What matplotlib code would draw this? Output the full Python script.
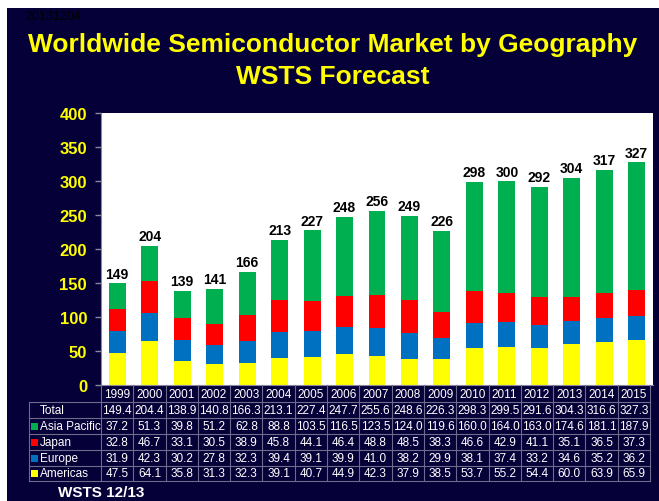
import matplotlib.pyplot as plt
import numpy as np

# WSTS 12/13 - market by region, billions USD
years = ['1999', '2000', '2001', '2002', '2003', '2004', '2005', '2006', '2007',
         '2008', '2009', '2010', '2011', '2012', '2013', '2014', '2015']
total = [149.4, 204.4, 138.9, 140.8, 166.3, 213.1, 227.4, 247.7, 255.6,
         248.6, 226.3, 298.3, 299.5, 291.6, 304.3, 316.6, 327.3]
asia_pacific = [37.2, 51.3, 39.8, 51.2, 62.8, 88.8, 103.5, 116.5, 123.5,
                124.0, 119.6, 160.0, 164.0, 163.0, 174.6, 181.1, 187.9]
japan = [32.8, 46.7, 33.1, 30.5, 38.9, 45.8, 44.1, 46.4, 48.8,
         48.5, 38.3, 46.6, 42.9, 41.1, 35.1, 36.5, 37.3]
europe = [31.9, 42.3, 30.2, 27.8, 32.3, 39.4, 39.1, 39.9, 41.0,
          38.2, 29.9, 38.1, 37.4, 33.2, 34.6, 35.2, 36.2]
americas = [47.5, 64.1, 35.8, 31.3, 32.3, 39.1, 40.7, 44.9, 42.3,
            37.9, 38.5, 53.7, 55.2, 54.4, 60.0, 63.9, 65.9]

regions = ['Americas', 'Europe', 'Japan', 'Asia Pacific']
colors = {'Americas': '#ffff00', 'Europe': '#0070c0',
          'Japan': '#ff0000', 'Asia Pacific': '#00b050'}
values = {'Americas': americas, 'Europe': europe,
          'Japan': japan, 'Asia Pacific': asia_pacific}

NAVY = '#060038'
GRID = '#6c6c8c'
W, H = 659, 502

plt.rcParams['font.family'] = ['Liberation Sans', 'DejaVu Sans']

fig = plt.figure(figsize=(W / 100, H / 100), dpi=100, facecolor=NAVY)

# plot area in pixel terms
left, right, top, bottom = 101, 653, 114, 386
ax = fig.add_axes([left / W, 1 - bottom / H, (right - left) / W, (bottom - top) / H])
ax.set_facecolor('white')

x = np.arange(len(years))
base = np.zeros(len(years))
bars = None
for r in regions:
    bars = ax.bar(x, values[r], 0.52, bottom=base, color=colors[r], zorder=2)
    base += np.array(values[r])

ax.bar_label(bars, labels=[str(int(round(t))) for t in total], padding=2,
             fontsize=10, fontweight='bold', color='black')

ax.set_xlim(-0.5, len(years) - 0.5)
ax.set_ylim(0, 400)
ax.set_yticks(range(0, 401, 50))
ax.set_xticks([])
ax.tick_params(axis='y', colors='#8888a0', labelcolor='#ffff00', length=4,
               width=1, labelsize=12, pad=6)
for lab in ax.get_yticklabels():
    lab.set_fontweight('bold')
for s in ['top', 'right']:
    ax.spines[s].set_visible(False)
ax.spines['left'].set_color('#8888a0')
ax.spines['bottom'].set_color('#8888a0')

# overlay in pixel coordinates for title, table and notes
ov = fig.add_axes([0, 0, 1, 1], facecolor='none')
ov.set_xlim(0, W)
ov.set_ylim(H, 0)
ov.axis('off')

# white margin strips
ov.add_patch(plt.Rectangle((0, 0), W, 9, color='white', lw=0))
ov.add_patch(plt.Rectangle((0, 0), 7, H, color='white', lw=0))
ov.text(25, 17, '20131204', color='black', fontsize=9, va='center')

ov.text(333, 45, 'Worldwide Semiconductor Market by Geography', color='#ffff00',
        fontsize=19, fontweight='bold', ha='center', va='center')
ov.text(333, 77, 'WSTS Forecast', color='#ffff00',
        fontsize=19, fontweight='bold', ha='center', va='center')

# table
col_w = (650 - left) / len(years)
col_edges = [left + i * col_w for i in range(len(years) + 1)]
lab_left = 29
row_edges = [403, 419, 435, 451, 467, 482]
row_names = ['Total', 'Asia Pacific', 'Japan', 'Europe', 'Americas']
row_vals = [total, asia_pacific, japan, europe, americas]

for i, yr in enumerate(years):
    ov.text((col_edges[i] + col_edges[i + 1]) / 2, 395, yr, color='white',
            fontsize=8.5, ha='center', va='center')

for xe in col_edges:
    ov.plot([xe, xe], [bottom, row_edges[-1]], color=GRID, lw=0.8)
ov.plot([lab_left, lab_left], [row_edges[0], row_edges[-1]], color=GRID, lw=0.8)
for ye in row_edges:
    ov.plot([lab_left, col_edges[-1]], [ye, ye], color=GRID, lw=0.8)

for j, (name, vals) in enumerate(zip(row_names, row_vals)):
    yc = (row_edges[j] + row_edges[j + 1]) / 2
    if name != 'Total':
        ov.add_patch(plt.Rectangle((31, yc - 3.5), 7, 7, color=colors[name], lw=0))
    ov.text(40, yc, name, color='white', fontsize=8.5, va='center')
    for i, v in enumerate(vals):
        ov.text((col_edges[i] + col_edges[i + 1]) / 2, yc, f'{v:.1f}',
                color='white', fontsize=8.5, ha='center', va='center')

ov.text(58, 493, 'WSTS 12/13', color='white', fontsize=11, fontweight='bold',
        va='center')

fig.savefig('out.png', dpi=100, facecolor=NAVY)
